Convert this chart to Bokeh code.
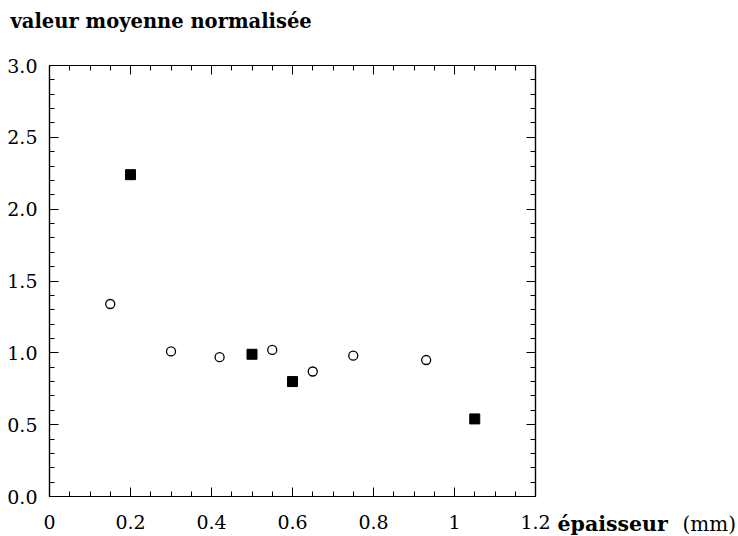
from bokeh.plotting import figure
from bokeh.models import LinearAxis, FixedTicker, Range1d, Label
from bokeh.embed import file_html
from bokeh.resources import INLINE

# ---- data ----
circle_x = [0.15, 0.30, 0.42, 0.55, 0.65, 0.75, 0.93]
circle_y = [1.34, 1.01, 0.97, 1.02, 0.87, 0.98, 0.95]
square_x = [0.20, 0.50, 0.60, 1.05]
square_y = [2.24, 0.99, 0.80, 0.54]

x_ticks = [0, 0.2, 0.4, 0.6, 0.8, 1.0, 1.2]
x_tick_labels = ["0", "0.2", "0.4", "0.6", "0.8", "1", "1.2"]
x_minor = [round(0.05 * i, 2) for i in range(25)]
y_ticks = [0.0, 0.5, 1.0, 1.5, 2.0, 2.5, 3.0]
y_tick_labels = ["0.0", "0.5", "1.0", "1.5", "2.0", "2.5", "3.0"]
y_minor = [round(0.1 * i, 1) for i in range(31)]

title_text = "valeur moyenne normalisée"
xlabel_bold = "épaisseur"
xlabel_unit = "(mm)"

FONT = "DejaVu Serif"
FS = "19px"

p = figure(width=738, height=536, output_backend="svg", toolbar_location=None,
           x_range=Range1d(0, 1.2), y_range=Range1d(0, 3.0),
           x_axis_type=None, y_axis_type=None,
           min_border_left=49, min_border_right=203,
           min_border_top=65, min_border_bottom=40)
p.xgrid.visible = False
p.ygrid.visible = False
p.outline_line_color = "black"
p.outline_line_width = 1.2
p.background_fill_color = "white"
p.border_fill_color = "white"


def style(ax, show_labels):
    ax.axis_line_color = "black"
    ax.axis_line_width = 1.2
    ax.major_tick_in = 9
    ax.major_tick_out = 0
    ax.minor_tick_in = 5
    ax.minor_tick_out = 0
    ax.major_tick_line_color = "black"
    ax.minor_tick_line_color = "black"
    ax.major_tick_line_width = 1
    ax.minor_tick_line_width = 1
    ax.major_label_text_font = FONT
    ax.major_label_text_font_size = FS
    ax.major_label_text_color = "black"
    if not show_labels:
        ax.major_label_text_font_size = "0px"
        ax.major_label_text_color = None
        ax.major_label_standoff = 0


xt = FixedTicker(ticks=x_ticks, minor_ticks=x_minor)
yt = FixedTicker(ticks=y_ticks, minor_ticks=y_minor)

xb = LinearAxis(ticker=xt)
xb.major_label_overrides = dict(zip(x_ticks, x_tick_labels))
style(xb, True)
xb.major_label_standoff = 18
p.add_layout(xb, "below")

xa = LinearAxis(ticker=xt)
style(xa, False)
p.add_layout(xa, "above")

yl = LinearAxis(ticker=yt)
yl.major_label_overrides = dict(zip(y_ticks, y_tick_labels))
style(yl, True)
yl.major_label_standoff = 12
p.add_layout(yl, "left")

yr = LinearAxis(ticker=yt)
style(yr, False)
p.add_layout(yr, "right")

p.scatter(circle_x, circle_y, marker="circle", size=9, fill_color="white",
          line_color="black", line_width=1.3)
p.scatter(square_x, square_y, marker="square", size=10, fill_color="black",
          line_color="black")

p.add_layout(Label(x=0, y=3.0, x_offset=-39, y_offset=44, text=title_text,
                   text_font=FONT, text_font_size="19.5px", text_font_style="bold",
                   text_color="black",
                   text_baseline="alphabetic", text_align="left"), "above")
p.add_layout(Label(x=1.2, y=0, x_offset=22, y_offset=-27, text=xlabel_bold,
                   text_font=FONT, text_font_size="20.5px", text_font_style="bold",
                   text_color="black",
                   text_baseline="alphabetic", text_align="left"), "right")
p.add_layout(Label(x=1.2, y=0, x_offset=147, y_offset=-27, text=xlabel_unit,
                   text_font=FONT, text_font_size="20px", text_color="black",
                   text_baseline="alphabetic", text_align="left"), "right")

open("out.html", "w").write(file_html(p, INLINE))
